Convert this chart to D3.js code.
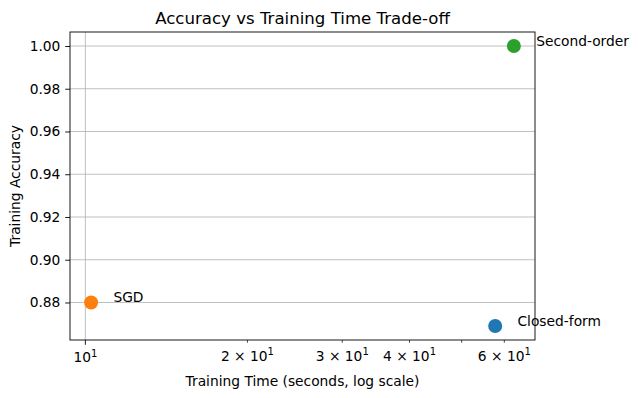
<!DOCTYPE html>
<html>
<head>
    <meta charset="UTF-8">
    <title>Accuracy vs Training Time Trade-off</title>
    <style>
        body { margin: 0; background: #fff; }
        text { font-family: "DejaVu Sans", sans-serif; fill: #000; }
        .tick-label { font-size: 13.8px; }
        .axis-label { font-size: 13.8px; }
        .title { font-size: 16.6px; text-anchor: middle; }
        .point-label { font-size: 13.8px; }
    </style>
    <script src="https://d3js.org/d3.v7.min.js"></script>
</head>
<body>
<div id="chart"></div>
<script>
    // data
    const methods = ["Closed-form", "SGD", "Second-order"];
    const times = [57.7, 10.25, 62.5];
    const accuracies = [0.869, 0.880, 1.000];
    const colors = ["#1f77b4", "#ff7f0e", "#2ca02c"];

    const yTicks = [0.88, 0.90, 0.92, 0.94, 0.96, 0.98, 1.00];
    const xMajorTicks = [10];
    const xMinorTicks = [20, 30, 40, 50, 60];
    // label: [coefficient, exponent]; null = no label
    const xMinorLabels = [["2", "1"], ["3", "1"], ["4", "1"], null, ["6", "1"]];

    const W = 639, H = 398;
    const margin = {left: 70, right: 535, top: 32, bottom: 340};

    const svg = d3.select("#chart").append("svg")
        .attr("width", W)
        .attr("height", H);

    // scales with matplotlib-like 5% margins
    const lx = times.map(t => Math.log10(t));
    const lxMin = d3.min(lx), lxMax = d3.max(lx);
    const lxPad = (lxMax - lxMin) * 0.05;
    const x = d3.scaleLog()
        .domain([Math.pow(10, lxMin - lxPad), Math.pow(10, lxMax + lxPad)])
        .range([margin.left, margin.right]);

    const yMin = d3.min(accuracies), yMax = d3.max(accuracies);
    const yPad = (yMax - yMin) * 0.05;
    const y = d3.scaleLinear()
        .domain([yMin - yPad, yMax + yPad])
        .range([margin.bottom, margin.top]);

    // grid
    svg.append("g")
        .selectAll("line")
        .data(yTicks)
        .join("line")
            .attr("x1", margin.left).attr("x2", margin.right)
            .attr("y1", d => y(d)).attr("y2", d => y(d))
            .attr("stroke", "#b0b0b0").attr("stroke-width", 0.8);
    svg.append("g")
        .selectAll("line")
        .data(xMajorTicks)
        .join("line")
            .attr("x1", d => x(d)).attr("x2", d => x(d))
            .attr("y1", margin.top).attr("y2", margin.bottom)
            .attr("stroke", "#b0b0b0").attr("stroke-width", 0.8);

    // y axis
    const yAxis = svg.append("g")
        .attr("transform", `translate(${margin.left},0)`)
        .call(d3.axisLeft(y).tickValues(yTicks).tickFormat(d3.format(".2f"))
            .tickSize(4.8).tickPadding(4.8));
    yAxis.select(".domain").remove();
    yAxis.selectAll("line").attr("stroke", "#000").attr("stroke-width", 0.9);
    yAxis.selectAll("text").attr("class", "tick-label")
        .style("font-family", "DejaVu Sans").style("font-size", "13.8px");

    // x axis major
    const xMaj = svg.append("g").attr("transform", `translate(0,${margin.bottom})`);
    xMaj.selectAll("line")
        .data(xMajorTicks)
        .join("line")
            .attr("x1", d => x(d)).attr("x2", d => x(d))
            .attr("y1", 0).attr("y2", 4.8)
            .attr("stroke", "#000").attr("stroke-width", 0.9);
    const majText = xMaj.selectAll("text")
        .data(xMajorTicks)
        .join("text")
            .attr("class", "tick-label")
            .attr("x", d => x(d))
            .attr("y", 22)
            .attr("text-anchor", "middle");
    majText.append("tspan").text("10");
    majText.append("tspan").attr("dy", -5.5).style("font-size", "10px").text("1");

    // x axis minor
    const xMin = svg.append("g").attr("transform", `translate(0,${margin.bottom})`);
    xMin.selectAll("line")
        .data(xMinorTicks)
        .join("line")
            .attr("x1", d => x(d)).attr("x2", d => x(d))
            .attr("y1", 0).attr("y2", 2.8)
            .attr("stroke", "#000").attr("stroke-width", 0.7);
    const minText = xMin.selectAll("text")
        .data(xMinorTicks.map((t, i) => ({t, lab: xMinorLabels[i]})).filter(d => d.lab))
        .join("text")
            .attr("class", "tick-label")
            .attr("x", d => x(d.t))
            .attr("y", 20.5)
            .attr("text-anchor", "middle");
    minText.append("tspan").text(d => d.lab[0] + " \u00d7 10");
    minText.append("tspan").attr("dy", -5.5).style("font-size", "10px").text(d => d.lab[1]);

    // frame
    svg.append("rect")
        .attr("x", margin.left).attr("y", margin.top)
        .attr("width", margin.right - margin.left).attr("height", margin.bottom - margin.top)
        .attr("fill", "none").attr("stroke", "#000").attr("stroke-width", 0.9);

    // points
    svg.append("g")
        .selectAll("circle")
        .data(methods)
        .join("circle")
            .attr("cx", (d, i) => x(times[i]))
            .attr("cy", (d, i) => y(accuracies[i]))
            .attr("r", 7)
            .attr("fill", (d, i) => colors[i]);

    // point labels
    svg.append("g")
        .selectAll("text")
        .data(methods)
        .join("text")
            .attr("class", "point-label")
            .attr("x", (d, i) => x(times[i] * 1.1))
            .attr("y", (d, i) => y(accuracies[i]))
            .text(d => d);

    // axis labels
    svg.append("text")
        .attr("class", "axis-label")
        .attr("x", (margin.left + margin.right) / 2)
        .attr("y", 386)
        .attr("text-anchor", "middle")
        .text("Training Time (seconds, log scale)");
    svg.append("text")
        .attr("class", "axis-label")
        .attr("transform", `translate(20,${(margin.top + margin.bottom) / 2}) rotate(-90)`)
        .attr("text-anchor", "middle")
        .text("Training Accuracy");

    // title
    svg.append("text")
        .attr("class", "title")
        .attr("x", (margin.left + margin.right) / 2)
        .attr("y", 24)
        .text("Accuracy vs Training Time Trade-off");
</script>
</body>
</html>
